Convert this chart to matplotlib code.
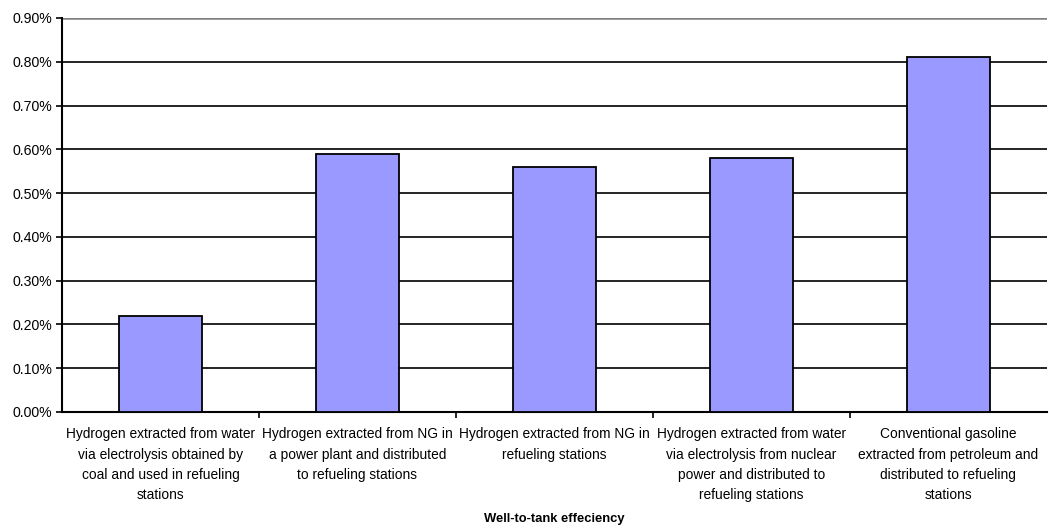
import matplotlib.pyplot as plt
import numpy as np
from matplotlib.ticker import FuncFormatter

plt.rcParams['font.family'] = ['Liberation Sans', 'DejaVu Sans']

# Well-to-tank efficiency per pathway (in %)
categories = [
    "Hydrogen extracted from water\nvia electrolysis obtained by\ncoal and used in refueling\nstations",
    "Hydrogen extracted from NG in\na power plant and distributed\nto refueling stations",
    "Hydrogen extracted from NG in\nrefueling stations",
    "Hydrogen extracted from water\nvia electrolysis from nuclear\npower and distributed to\nrefueling stations",
    "Conventional gasoline\nextracted from petroleum and\ndistributed to refueling\nstations",
]
efficiency = [0.22, 0.59, 0.56, 0.58, 0.81]
yticks = np.arange(0, 0.91, 0.1)

fig = plt.figure(figsize=(10.49, 5.29), dpi=100)
ax = fig.add_axes([0.0591, 0.2212, 0.9389, 0.7448])

x = np.arange(len(categories))
ax.bar(x, efficiency, 0.42, color='#9999ff', edgecolor='black', linewidth=1.3, zorder=3)

ax.set_xlim(-0.5, len(categories) - 0.5)
ax.set_ylim(0, 0.9)
ax.set_yticks(yticks)
ax.yaxis.set_major_formatter(FuncFormatter(lambda v, p: f"{v:.2f}%"))
for y in yticks[1:-1]:
    ax.axhline(y, color='black', linewidth=1.2, zorder=1)
ax.axhline(0.9, color='#808080', linewidth=1.8, zorder=1)

# category ticks sit on the boundaries between groups
ax.set_xticks(np.arange(0.5, len(categories) - 0.5, 1))
ax.set_xticklabels([])
ax.set_xticks(x, minor=True)
ax.set_xticklabels(categories, minor=True, fontsize=9.9, linespacing=1.58, va='top')
ax.tick_params(axis='x', which='minor', length=0, pad=11)
ax.tick_params(axis='x', which='major', length=4, width=1.2, direction='out')
ax.tick_params(axis='y', length=4, width=1.2, labelsize=10.2, pad=3)

for s in ['top', 'right']:
    ax.spines[s].set_visible(False)
for s in ['left', 'bottom']:
    ax.spines[s].set_linewidth(1.5)

# axis title placed under the category labels
fig.text(0.5287, 1 - 519 / 529, 'Well-to-tank effeciency', fontsize=9.4,
         fontweight='bold', ha='center', va='center')

fig.savefig('out.png', dpi=100)
